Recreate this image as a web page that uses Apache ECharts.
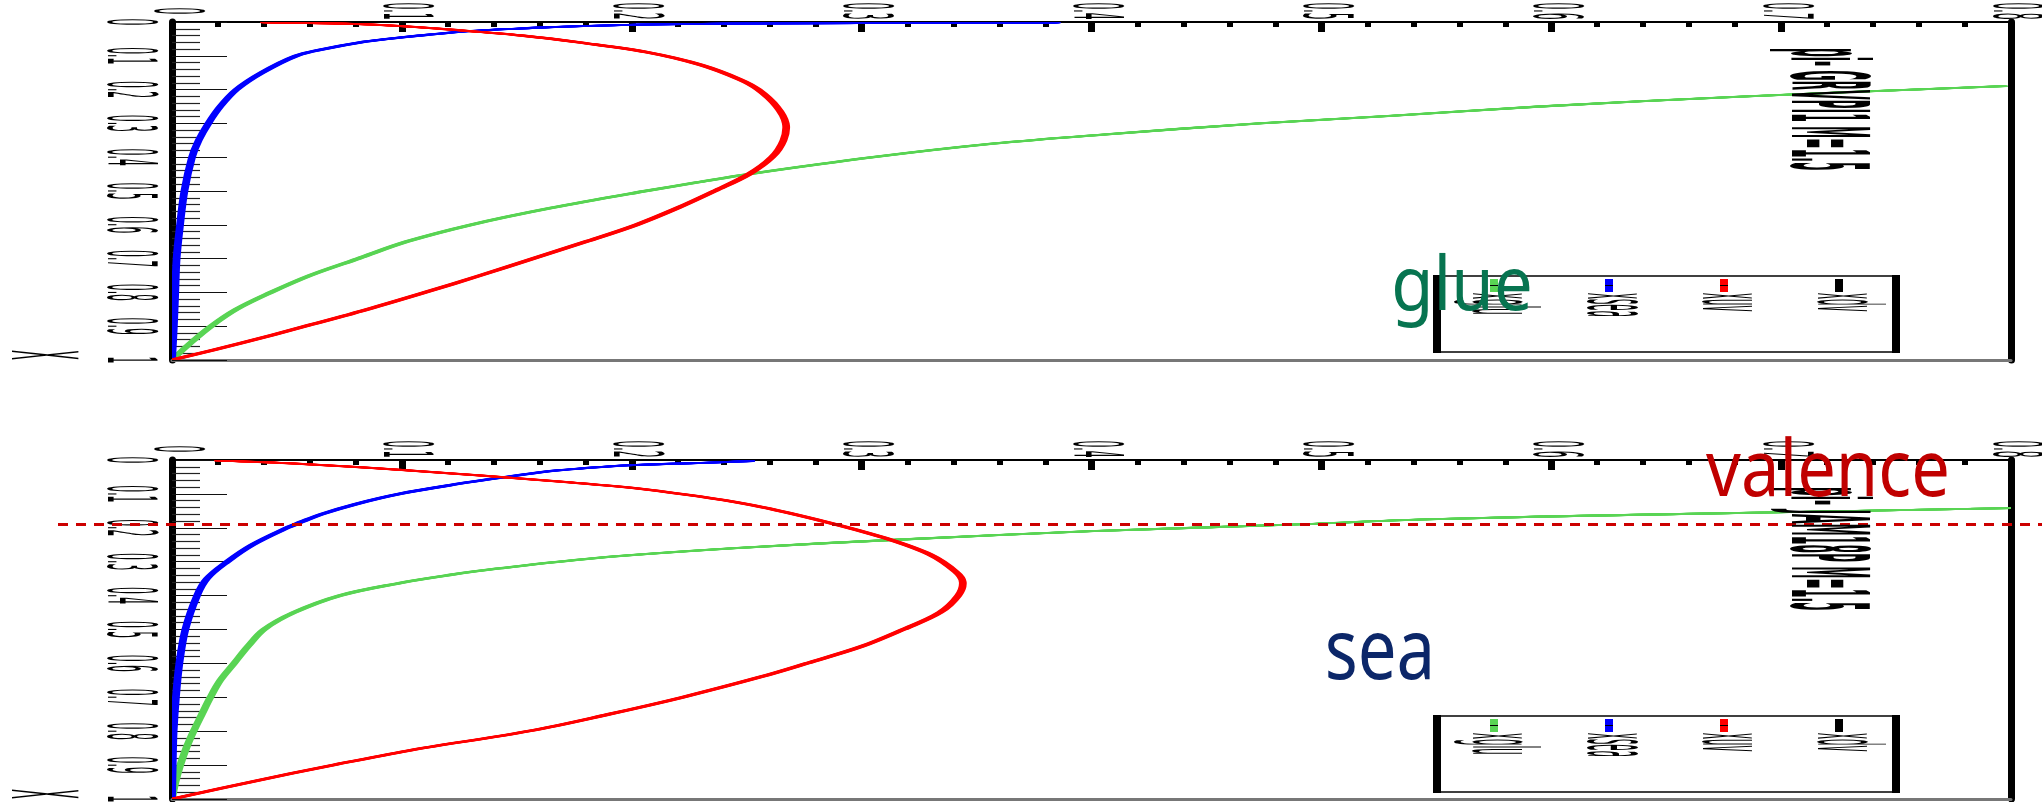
<!DOCTYPE html>
<html>
<head>
<meta charset="utf-8">
<script src="https://cdn.jsdelivr.net/npm/echarts@6.0.0/dist/echarts.min.js"></script>
<style>
html, body { margin: 0; padding: 0; background: #ffffff; }
#chart { width: 2042px; height: 802px; }
</style>
</head>
<body>
<div id="chart"></div>
<script>
// ---- tick labels ----
const xTickLabels = ['0', '0.1', '0.2', '0.3', '0.4', '0.5', '0.6', '0.7', '0.8'];
const yTickLabels = ['0', '0.1', '0.2', '0.3', '0.4', '0.5', '0.6', '0.7', '0.8', '0.9', '1'];
const axisTitle = 'X';

// ---- legend ----
const legendNames = ['xglu', 'xsea', 'xuv', 'xdv'];
const legendColors = ['#59d454', '#0000ff', '#ff0000', '#000000'];
const panelTitles = ['pi- GRVPI1 M=1.5', 'pi- JAM18P M=1.5'];

// ---- pi- GRVPI1 (upper panel): x vs x*f(x) ----
const grvValX = [0.001, 0.005, 0.012, 0.022, 0.04, 0.061, 0.09, 0.127, 0.17, 0.2, 0.25, 0.3, 0.35, 0.4, 0.45, 0.5, 0.55, 0.6, 0.65, 0.7, 0.75, 0.8, 0.85, 0.9, 0.95, 1.0];
const grvVal  = [0.040, 0.075, 0.100, 0.120, 0.152, 0.178, 0.207, 0.230, 0.247, 0.255, 0.263, 0.267, 0.266, 0.261, 0.251, 0.236, 0.220, 0.202, 0.180, 0.157, 0.134, 0.110, 0.085, 0.058, 0.030, 0.0];

const grvSeaX = [0.0015, 0.003, 0.005, 0.008, 0.012, 0.017, 0.027, 0.04, 0.05, 0.06, 0.08, 0.1, 0.15, 0.2, 0.25, 0.3, 0.35, 0.4, 0.5, 0.6, 0.7, 0.8, 0.9, 1.0];
const grvSea  = [0.385, 0.300, 0.240, 0.203, 0.178, 0.158, 0.129, 0.108, 0.094, 0.082, 0.066, 0.054, 0.039, 0.028, 0.021, 0.0158, 0.0116, 0.0087, 0.0054, 0.0035, 0.002, 0.0014, 0.0008, 0.0];

const grvGlueX = [0.19, 0.22, 0.25, 0.278, 0.3, 0.333, 0.36, 0.4, 0.45, 0.474, 0.5, 0.55, 0.6, 0.65, 0.7, 0.75, 0.8, 0.85, 0.9, 0.95, 1.0];
const grvGlue  = [0.797, 0.685, 0.595, 0.530, 0.473, 0.405, 0.357, 0.305, 0.251, 0.229, 0.206, 0.165, 0.130, 0.102, 0.081, 0.060, 0.043, 0.028, 0.017, 0.008, 0.0];

// ---- pi- JAM18P (lower panel) ----
const jamValX = [0.002, 0.01, 0.03, 0.064, 0.086, 0.13, 0.18, 0.23, 0.28, 0.33, 0.36, 0.4, 0.45, 0.5, 0.55, 0.6, 0.64, 0.7, 0.75, 0.8, 0.857, 0.9, 0.95, 1.0];
const jamVal  = [0.020, 0.052, 0.101, 0.169, 0.205, 0.250, 0.283, 0.310, 0.330, 0.341, 0.344, 0.342, 0.334, 0.318, 0.300, 0.276, 0.256, 0.222, 0.190, 0.155, 0.103, 0.070, 0.034, 0.0];

const jamSeaX = [0.003, 0.006, 0.009, 0.015, 0.02, 0.03, 0.04, 0.053, 0.07, 0.1, 0.13, 0.16, 0.182, 0.2, 0.25, 0.3, 0.35, 0.4, 0.5, 0.6, 0.7, 0.8, 0.9, 1.0];
const jamSea  = [0.252, 0.240, 0.228, 0.200, 0.188, 0.169, 0.156, 0.142, 0.125, 0.099, 0.080, 0.065, 0.0565, 0.050, 0.035, 0.024, 0.0152, 0.0109, 0.0058, 0.0032, 0.0017, 0.0007, 0.0003, 0.0];

const jamGlueX = [0.142, 0.16, 0.175, 0.19, 0.21, 0.233, 0.26, 0.29, 0.32, 0.34, 0.363, 0.4, 0.45, 0.5, 0.55, 0.6, 0.65, 0.7, 0.75, 0.8, 0.85, 0.9, 0.95, 1.0];
const jamGlue  = [0.800, 0.650, 0.545, 0.490, 0.400, 0.322, 0.245, 0.183, 0.142, 0.120, 0.099, 0.073, 0.053, 0.040, 0.033, 0.027, 0.021, 0.0167, 0.013, 0.0094, 0.0062, 0.0036, 0.0015, 0.0];

// horizontal dashed marker in the lower panel (x position)
const dashedAtX = 0.19;

// ---- drawing ----
const chart = echarts.init(document.getElementById('chart'), null, { renderer: 'canvas' });

const GRID_LEFT = 172, GRID_RIGHT = 31;
const panels = [{ top: 22, height: 338 }, { top: 460, height: 339 }];

// pen that is wider horizontally than vertically
const PEN_W = 1.8, PEN_HX = 3;

const AXIS_FONT = { family: 'DejaVu Sans', size: 12, weight: 'normal', sx: 0.9, sy: 5.6 };
const LEGEND_FONT = { family: 'DejaVu Sans', size: 12, weight: 'normal', sx: 0.85, sy: 7.4 };
const TITLE_FONT = { family: 'DejaVu Sans', size: 14, weight: 'bold', sx: 0.88, sy: 7.6 };
const XTITLE_FONT = { family: 'DejaVu Sans', size: 12, weight: 'normal', sx: 1.2, sy: 7.6 };

function rotText(text, x, y, f, align) {
  return {
    type: 'text', x: x, y: y, rotation: -Math.PI / 2, scaleX: f.sx, scaleY: f.sy,
    style: {
      text: text, fontFamily: f.family, fontSize: f.size, fontWeight: f.weight,
      fill: f.color || '#000', align: align || 'center', verticalAlign: 'middle'
    }
  };
}

function curve(panel, xs, vs, color, z) {
  return {
    type: 'custom', xAxisIndex: panel * 2, yAxisIndex: panel * 2, z: z, clip: true, silent: true,
    data: xs.map((x, i) => [vs[i], x]),
    encode: { x: 0, y: 1 },
    renderItem: function (params, api) {
      if (params.dataIndex !== 0) return;
      const pts = xs.map((x, i) => api.coord([vs[i], x]));
      const kids = [];
      for (let k = -PEN_HX; k <= PEN_HX; k += 1) {
        kids.push({
          type: 'polyline',
          shape: { points: pts.map(p => [p[0] + k, p[1]]), smooth: 0.35 },
          style: { stroke: color, lineWidth: PEN_W, fill: null, lineJoin: 'round', lineCap: 'round' }
        });
      }
      return { type: 'group', children: kids };
    }
  };
}

function yLabelSeries(panel) {
  return {
    type: 'custom', xAxisIndex: panel * 2, yAxisIndex: panel * 2, clip: false, silent: true, z: 5,
    data: yTickLabels.map(t => [0, Number(t)]),
    encode: { x: 0, y: 1 },
    renderItem: function (params, api) {
      const p = api.coord([api.value(0), api.value(1)]);
      return rotText(yTickLabels[params.dataIndex], p[0] - 47, p[1], AXIS_FONT);
    }
  };
}

function xLabelSeries(panel) {
  return {
    type: 'custom', xAxisIndex: panel * 2, yAxisIndex: panel * 2, clip: false, silent: true, z: 5,
    data: xTickLabels.map(t => [Number(t), 0]),
    encode: { x: 0, y: 1 },
    renderItem: function (params, api) {
      const p = api.coord([api.value(0), api.value(1)]);
      return rotText(xTickLabels[params.dataIndex], p[0], p[1] - 11, AXIS_FONT);
    }
  };
}

function axisTitleSeries(panel) {
  return {
    type: 'custom', xAxisIndex: panel * 2, yAxisIndex: panel * 2, clip: false, silent: true, z: 5,
    data: [[0, 1]],
    encode: { x: 0, y: 1 },
    renderItem: function (params, api) {
      const p = api.coord([0, 1]);
      return rotText(axisTitle, p[0] - 136, p[1] - 5, XTITLE_FONT);
    }
  };
}

function dashedSeries(panel) {
  return {
    type: 'custom', xAxisIndex: panel * 2, yAxisIndex: panel * 2, clip: false, silent: true, z: 20,
    data: [[0, dashedAtX]],
    encode: { x: 0, y: 1 },
    renderItem: function (params, api) {
      const y = api.coord([0, api.value(1)])[1];
      return {
        type: 'line', shape: { x1: 58, y1: y, x2: 2042, y2: y },
        style: { stroke: '#cc0000', lineWidth: 3, lineDash: [10, 8] }
      };
    }
  };
}

const grids = [], xAxes = [], yAxes = [];
panels.forEach((p, i) => {
  grids.push({ left: GRID_LEFT, right: GRID_RIGHT, top: p.top, height: p.height });
  xAxes.push({
    gridIndex: i, type: 'value', position: 'top', min: 0, max: 0.8, interval: 0.1,
    axisLine: { show: true, onZero: false, lineStyle: { color: '#000', width: 2 } },
    axisTick: { show: true, inside: true, length: 10, lineStyle: { color: '#000', width: 7 } },
    minorTick: { show: true, splitNumber: 5, length: 5, lineStyle: { color: '#000', width: 6 } },
    axisLabel: { show: false }, splitLine: { show: false }
  });
  xAxes.push({
    gridIndex: i, type: 'value', position: 'bottom', min: 0, max: 0.8,
    axisLine: { show: true, onZero: false, lineStyle: { color: '#777', width: 3 } },
    axisTick: { show: false }, axisLabel: { show: false }, splitLine: { show: false }
  });
  yAxes.push({
    gridIndex: i, type: 'value', inverse: true, position: 'left', min: 0, max: 1, interval: 0.1,
    axisLine: { show: true, onZero: false, lineStyle: { color: '#000', width: 7 } },
    axisTick: { show: true, inside: true, length: 55, lineStyle: { color: '#111', width: 1.2 } },
    minorTick: { show: true, splitNumber: 5, length: 28, lineStyle: { color: '#222', width: 1.2 } },
    axisLabel: { show: false }, splitLine: { show: false }
  });
  yAxes.push({
    gridIndex: i, type: 'value', inverse: true, position: 'right', min: 0, max: 1,
    axisLine: { show: true, onZero: false, lineStyle: { color: '#000', width: 7 } },
    axisTick: { show: false }, axisLabel: { show: false }, splitLine: { show: false }
  });
});

const series = [
  curve(0, grvGlueX, grvGlue, legendColors[0], 10),
  curve(0, grvSeaX, grvSea, legendColors[1], 11),
  curve(0, grvValX, grvVal, legendColors[2], 12),
  curve(1, jamGlueX, jamGlue, legendColors[0], 10),
  curve(1, jamSeaX, jamSea, legendColors[1], 11),
  curve(1, jamValX, jamVal, legendColors[2], 12),
  yLabelSeries(0), yLabelSeries(1), xLabelSeries(0), xLabelSeries(1),
  axisTitleSeries(0), axisTitleSeries(1),
  dashedSeries(1)
];

// legend boxes, panel titles and the big coloured captions
const graphics = [];
const legendBoxes = [{ left: 1433, right: 1900, top: 276, bottom: 352 }, { left: 1433, right: 1900, top: 716, bottom: 792 }];
const legendColX = [1494, 1609, 1724, 1839];
legendBoxes.forEach((b) => {
  graphics.push({ type: 'line', shape: { x1: b.left, y1: b.top, x2: b.right, y2: b.top }, style: { stroke: '#000', lineWidth: 1.5 }, z: 30 });
  graphics.push({ type: 'line', shape: { x1: b.left, y1: b.bottom, x2: b.right, y2: b.bottom }, style: { stroke: '#000', lineWidth: 1.5 }, z: 30 });
  graphics.push({ type: 'rect', shape: { x: b.left, y: b.top - 1, width: 8, height: b.bottom - b.top + 2 }, style: { fill: '#000' }, z: 30 });
  graphics.push({ type: 'rect', shape: { x: b.right - 8, y: b.top - 1, width: 8, height: b.bottom - b.top + 2 }, style: { fill: '#000' }, z: 30 });
  legendNames.forEach((name, j) => {
    const cx = legendColX[j];
    graphics.push({ type: 'rect', shape: { x: cx - 4, y: b.top + 3, width: 8, height: 13 }, style: { fill: legendColors[j] }, z: 31 });
    graphics.push({ type: 'line', shape: { x1: cx - 4, y1: b.top + 9.5, x2: cx + 4, y2: b.top + 9.5 }, style: { stroke: '#000', lineWidth: 1 }, z: 32 });
    const t = rotText(name, cx + 2, b.top + 17, LEGEND_FONT, 'left');
    t.z = 31;
    graphics.push(t);
  });
});

[48, 487].forEach((y, i) => {
  const t = rotText(panelTitles[i], 1820, y, TITLE_FONT, 'left');
  t.z = 25;
  graphics.push(t);
});

function caption(text, cx, cy, size, sx, color) {
  return {
    type: 'text', x: cx, y: cy, scaleX: sx, scaleY: 1, z: 40,
    style: { text: text, fontFamily: 'Noto Sans', fontSize: size, fill: color, align: 'center', verticalAlign: 'middle' }
  };
}
graphics.push(caption('glue', 1462, 289, 74, 0.93, '#077450'));
graphics.push(caption('valence', 1828, 474, 78, 0.88, '#c00000'));
graphics.push(caption('sea', 1380, 655, 84, 0.82, '#0c2769'));

chart.setOption({
  backgroundColor: '#ffffff',
  animation: false,
  grid: grids,
  xAxis: xAxes,
  yAxis: yAxes,
  series: series,
  graphic: graphics
});
</script>
</body>
</html>
